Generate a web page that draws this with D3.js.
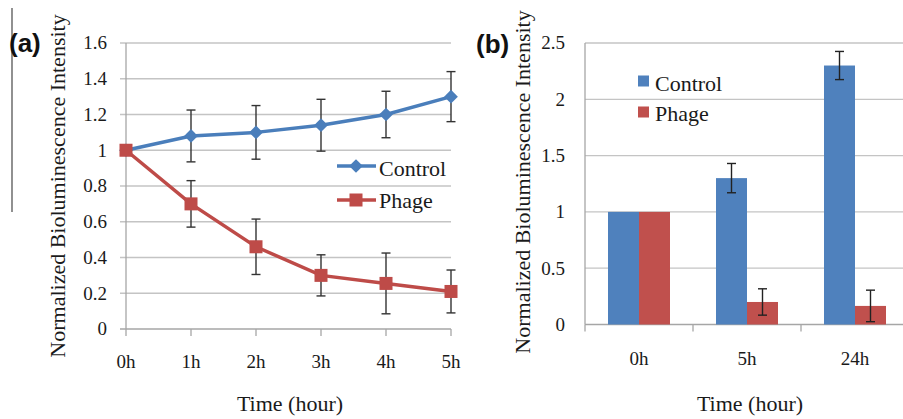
<html>
<head>
<script src="https://d3js.org/d3.v7.min.js"></script>
</head>
<body style="margin:0;background:#fff">
<div id="chart"></div>
<style>
  #chart text { font-family: 'Liberation Serif', 'Times New Roman', serif; }
  #chart text.panel { font-family: 'Liberation Sans', Arial, sans-serif; font-weight: bold; }
</style>
<script>
// panel (a): line chart
var hours = ["0h", "1h", "2h", "3h", "4h", "5h"];
var controlLine = [1, 1.08, 1.1, 1.14, 1.2, 1.3];
var controlLineErr = [0, 0.145, 0.15, 0.145, 0.13, 0.14];
var phageLine = [1, 0.7, 0.46, 0.3, 0.255, 0.21];
var phageLineErr = [0, 0.13, 0.155, 0.115, 0.17, 0.12];
var yTicksA = [0, 0.2, 0.4, 0.6, 0.8, 1, 1.2, 1.4, 1.6];

// panel (b): grouped bars
var barTimes = ["0h", "5h", "24h"];
var controlBar = [1, 1.3, 2.3];
var controlBarErr = [0, 0.13, 0.125];
var phageBar = [1, 0.2, 0.165];
var phageBarErr = [0, 0.117, 0.14];
var yTicksB = [0, 0.5, 1, 1.5, 2, 2.5];

var series = ["Control", "Phage"];
var blue = "#4F81BD", red = "#C0504D";

var svg = d3.select("#chart").append("svg")
    .attr("width", 903).attr("height", 419);

var fmt = function(d) { return String(+d.toFixed(1)); };

// thin rule at far left
svg.append("line").attr("x1", 12).attr("x2", 12).attr("y1", 8).attr("y2", 212)
    .attr("stroke", "#555").attr("stroke-width", 1.3);

// ---------- (a) ----------
var xA = d3.scalePoint().domain(hours).range([126, 451]);
var yA = d3.scaleLinear().domain([0, 1.6]).range([329, 43]);

svg.append("g").selectAll("line").data(yTicksA).join("line")
    .attr("x1", 120).attr("x2", 451)
    .attr("y1", d => yA(d)).attr("y2", d => yA(d))
    .attr("stroke", d => d === 0 ? "#a6a6a6" : "#c4c4c4").attr("stroke-width", 1.3);
svg.append("line").attr("x1", 126).attr("x2", 126).attr("y1", yA(1.6)).attr("y2", yA(0))
    .attr("stroke", "#a6a6a6").attr("stroke-width", 1.3);
svg.append("g").selectAll("line").data(hours).join("line")
    .attr("x1", d => xA(d)).attr("x2", d => xA(d))
    .attr("y1", yA(0)).attr("y2", yA(0) + 7)
    .attr("stroke", "#a6a6a6").attr("stroke-width", 1.3);

svg.append("g").selectAll("text").data(yTicksA).join("text")
    .attr("x", 107).attr("y", d => yA(d)).attr("dy", "0.34em")
    .attr("text-anchor", "end").attr("font-size", 19).attr("fill", "#1a1a1a")
    .text(fmt);
svg.append("g").selectAll("text").data(hours).join("text")
    .attr("x", d => xA(d)).attr("y", 368)
    .attr("text-anchor", "middle").attr("font-size", 19).attr("fill", "#1a1a1a")
    .text(d => d);

svg.append("text").attr("x", 290).attr("y", 411).attr("text-anchor", "middle")
    .attr("font-size", 22).attr("fill", "#1a1a1a").text("Time (hour)");
svg.append("text").attr("transform", "translate(65,186) rotate(-90)")
    .attr("text-anchor", "middle").attr("font-size", 22).attr("fill", "#1a1a1a")
    .text("Normalized Bioluminescence Intensity");
svg.append("text").attr("class", "panel").attr("x", 9).attr("y", 52)
    .attr("font-size", 26).attr("fill", "#111").text("(a)");

function errorBars(g, xs, vals, errs, yScale) {
    vals.forEach(function(v, i) {
        if (!errs[i]) return;
        var x = xs[i], t = yScale(v + errs[i]), b = yScale(v - errs[i]);
        g.append("line").attr("x1", x).attr("x2", x).attr("y1", t).attr("y2", b);
        g.append("line").attr("x1", x - 4.5).attr("x2", x + 4.5).attr("y1", t).attr("y2", t);
        g.append("line").attr("x1", x - 4.5).attr("x2", x + 4.5).attr("y1", b).attr("y2", b);
    });
}

var errA = svg.append("g").attr("stroke", "#333").attr("stroke-width", 1.4);
errorBars(errA, hours.map(h => xA(h)), controlLine, controlLineErr, yA);
errorBars(errA, hours.map(h => xA(h)), phageLine, phageLineErr, yA);

var diamond = d3.symbol(d3.symbolDiamond2, 120)();
var line = d3.line().x((d, i) => xA(hours[i])).y(d => yA(d));
svg.append("path").datum(controlLine).attr("d", line)
    .attr("fill", "none").attr("stroke", "#4A7EBB").attr("stroke-width", 3.5);
svg.append("g").selectAll("path").data(controlLine).join("path")
    .attr("d", diamond)
    .attr("transform", (d, i) => "translate(" + xA(hours[i]) + "," + yA(d) + ")")
    .attr("fill", "#4A7EBB");
svg.append("path").datum(phageLine).attr("d", line)
    .attr("fill", "none").attr("stroke", "#BE4B48").attr("stroke-width", 3.5);
svg.append("g").selectAll("rect").data(phageLine).join("rect")
    .attr("x", (d, i) => xA(hours[i]) - 6.5).attr("y", d => yA(d) - 6.5)
    .attr("width", 13).attr("height", 13).attr("fill", "#BE4B48");

// legend (a)
var legA = svg.append("g");
[["#4A7EBB", 166, 176], ["#BE4B48", 200, 208]].forEach(function(s, i) {
    legA.append("line").attr("x1", 337).attr("x2", 376).attr("y1", s[1]).attr("y2", s[1])
        .attr("stroke", s[0]).attr("stroke-width", 3.5);
    if (i === 0) {
        legA.append("path").attr("d", diamond)
            .attr("transform", "translate(356," + s[1] + ")").attr("fill", s[0]);
    } else {
        legA.append("rect").attr("x", 349.5).attr("y", s[1] - 6.5)
            .attr("width", 13).attr("height", 13).attr("fill", s[0]);
    }
    legA.append("text").attr("x", 379).attr("y", s[2]).attr("font-size", 22)
        .attr("fill", "#1a1a1a").text(series[i]);
});

// ---------- (b) ----------
var xB = d3.scaleBand().domain(barTimes).range([585, 909])
    .paddingInner(0.426).paddingOuter(0.213);
var xSub = d3.scaleBand().domain(series).range([0, xB.bandwidth()]);
var yB = d3.scaleLinear().domain([0, 2.5]).range([324.5, 43]);

svg.append("g").selectAll("line").data(yTicksB).join("line")
    .attr("x1", 585).attr("x2", 903)
    .attr("y1", d => yB(d)).attr("y2", d => yB(d))
    .attr("stroke", d => d === 0 ? "#a6a6a6" : "#c4c4c4").attr("stroke-width", 1.3);
svg.append("line").attr("x1", 585).attr("x2", 585).attr("y1", yB(2.5)).attr("y2", yB(0))
    .attr("stroke", "#a6a6a6").attr("stroke-width", 1.3);
svg.append("g").selectAll("line").data(barTimes).join("line")
    .attr("x1", d => xB(d) - xB.step() * 0.213).attr("x2", d => xB(d) - xB.step() * 0.213)
    .attr("y1", yB(0)).attr("y2", yB(0) + 7)
    .attr("stroke", "#a6a6a6").attr("stroke-width", 1.3);

svg.append("g").selectAll("text").data(yTicksB).join("text")
    .attr("x", 565).attr("y", d => yB(d)).attr("dy", "0.34em")
    .attr("text-anchor", "end").attr("font-size", 19).attr("fill", "#1a1a1a")
    .text(fmt);
svg.append("g").selectAll("text").data(barTimes).join("text")
    .attr("x", d => xB(d) + xB.bandwidth() / 2).attr("y", 365)
    .attr("text-anchor", "middle").attr("font-size", 19).attr("fill", "#1a1a1a")
    .text(d => d);

svg.append("text").attr("x", 750).attr("y", 411).attr("text-anchor", "middle")
    .attr("font-size", 22).attr("fill", "#1a1a1a").text("Time (hour)");
svg.append("text").attr("transform", "translate(530,182) rotate(-90)")
    .attr("text-anchor", "middle").attr("font-size", 22).attr("fill", "#1a1a1a")
    .text("Normalized Bioluminescence Intensity");
svg.append("text").attr("class", "panel").attr("x", 476).attr("y", 53)
    .attr("font-size", 26).attr("fill", "#111").text("(b)");

var barData = [
    { name: "Control", vals: controlBar, errs: controlBarErr, color: blue },
    { name: "Phage", vals: phageBar, errs: phageBarErr, color: red }
];
barData.forEach(function(s) {
    svg.append("g").selectAll("rect").data(s.vals).join("rect")
        .attr("x", (d, i) => xB(barTimes[i]) + xSub(s.name))
        .attr("y", d => yB(d))
        .attr("width", xSub.bandwidth())
        .attr("height", d => yB(0) - yB(d))
        .attr("fill", s.color);
});
var errB = svg.append("g").attr("stroke", "#222").attr("stroke-width", 1.4);
barData.forEach(function(s) {
    errorBars(errB, barTimes.map(t => xB(t) + xSub(s.name) + xSub.bandwidth() / 2),
        s.vals, s.errs, yB);
});

// legend (b)
var legB = svg.append("g");
[[blue, 81, 91], [red, 112, 121]].forEach(function(s, i) {
    legB.append("rect").attr("x", 638).attr("y", s[1] - 5.5)
        .attr("width", 11).attr("height", 11).attr("fill", s[0]);
    legB.append("text").attr("x", 655).attr("y", s[2]).attr("font-size", 22)
        .attr("fill", "#1a1a1a").text(series[i]);
});
</script>
</body>
</html>
